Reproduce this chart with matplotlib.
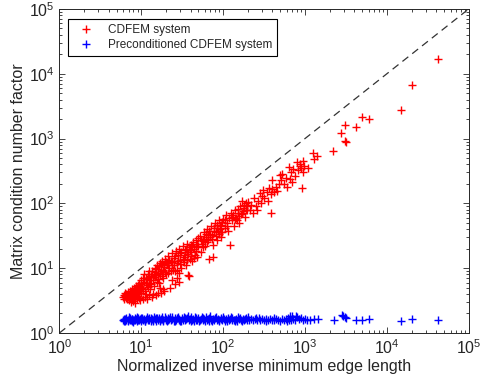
import numpy as np
import matplotlib
matplotlib.use("Agg")
import matplotlib.pyplot as plt

plt.rcParams['font.family'] = ['Liberation Sans', 'DejaVu Sans']

# axis range (decades) and y = x reference
axis_lim = [1.0, 1e5]

# CDFEM system: (normalized inverse min edge length, condition number factor)
red_points = [
    (6.0, 3.6), (6.1, 3.9), (6.2, 3.4), (6.3, 3.7), (6.4, 4.1), (6.5, 3.5), (6.6, 3.8), (6.7, 3.3), (6.8, 4.3), (6.9, 3.6),
    (7.0, 4.0), (7.1, 3.2), (7.2, 4.5), (7.3, 3.7), (7.4, 3.0), (7.5, 4.2), (7.6, 3.5), (7.7, 4.8), (7.8, 3.9), (7.9, 3.1),
    (8.0, 4.4), (8.1, 5.0), (8.2, 3.6), (8.3, 4.1), (8.4, 2.95), (8.5, 4.7), (8.6, 5.3), (8.7, 3.8), (8.8, 4.3), (8.9, 3.3),
    (9.0, 5.6), (9.1, 4.0), (9.2, 4.9), (9.3, 3.5), (9.4, 6.0), (9.5, 4.5), (9.6, 3.2), (9.7, 5.2), (9.8, 4.2), (9.9, 6.5),
    (6.5, 4.0), (7.0, 3.4), (7.5, 3.9), (8.0, 3.4), (8.5, 3.9), (9.0, 3.7), (9.5, 5.4), (7.2, 3.8), (8.8, 5.0), (9.3, 4.6),
    (10.2, 5.0), (10.5, 3.3), (10.8, 6.2), (11.0, 4.4), (11.3, 7.0), (11.6, 5.5), (11.9, 3.4), (12.2, 8.0), (12.5, 6.0), (12.8, 4.8),
    (13.1, 7.5), (13.4, 3.6), (13.7, 9.0), (14.0, 6.5), (14.3, 5.3), (14.6, 10.0), (15.0, 7.8), (15.3, 3.9), (15.6, 11.2), (16.0, 8.5),
    (16.4, 6.0), (16.8, 12.0), (17.2, 9.0), (17.6, 4.2), (18.0, 13.0), (18.4, 7.0), (18.8, 10.5), (19.2, 4.5), (19.6, 14.0), (20.0, 8.0),
    (10.4, 7.0), (11.2, 3.6), (12.0, 5.2), (12.6, 9.2), (13.2, 5.7), (14.8, 8.8), (15.8, 6.8), (16.6, 10.8), (17.8, 7.6), (19.0, 11.5),
    (10.8, 8.2), (11.8, 6.8), (13.9, 4.0), (14.6, 7.2), (17.0, 5.0), (18.6, 4.8),
    (10.0, 5.8), (10.6, 4.8), (11.4, 6.0), (12.3, 7.2), (12.9, 6.6), (13.5, 8.2), (14.2, 7.8), (15.2, 9.6), (15.5, 6.2), (16.2, 9.8),
    (16.9, 8.0), (17.4, 11.0), (18.2, 9.5), (19.4, 8.8), (19.8, 12.5), (11.5, 4.0), (12.4, 3.8), (16.0, 4.1),
    (20.5, 12.0), (21, 15.5), (22, 10.0), (22.5, 5.0), (23, 13.0), (24, 17.0), (24.5, 9.5), (25, 14.5), (26, 5.8), (26.5, 18.5),
    (27, 12.0), (28, 16.0), (28.5, 6.2), (29, 20.0), (30, 13.5), (31, 17.5), (32, 22.0), (33, 15.0), (34, 19.0), (35, 11.0),
    (36, 24.0), (37, 7.8), (37.5, 16.5), (38, 21.0), (39, 14.0), (40, 23.0), (41, 18.0), (42, 13.0), (43, 25.0), (44, 19.5),
    (45, 16.0), (46, 27.0), (47, 21.0), (48, 15.0), (49, 29.0), (50, 22.0), (21.5, 8.5), (23.5, 11.0), (26, 9.0), (31, 10.0),
    (33, 12.5), (35, 20.0), (38, 7.5), (29, 8.5),
    (21, 11.0), (22, 13.5), (23, 9.0), (24, 12.5), (25, 11.0), (26, 15.5), (27, 9.5), (28, 13.0), (30, 17.0), (30, 11.5),
    (32, 14.0), (34, 16.0), (36, 13.5), (36, 18.0), (39, 19.0), (40, 15.5), (42, 22.0), (44, 14.5), (46, 18.5), (48, 24.0),
    (24, 6.5), (27, 7.0),
    (52, 31), (54, 18), (56, 26), (58, 36), (60, 22), (62, 30), (64, 40), (66, 27), (68, 14), (70, 34),
    (72, 45), (74, 28), (76, 15), (78, 38), (80, 50), (82, 31), (85, 42), (88, 34), (90, 55), (92, 40),
    (95, 47), (98, 36), (100, 58), (55, 24), (65, 33), (75, 23), (85, 27), (95, 30),
    (53, 27), (57, 21), (61, 34), (63, 25), (67, 37), (69, 30), (73, 33), (77, 42), (81, 36), (84, 47),
    (87, 38), (91, 45), (94, 36), (97, 52), (59, 28),
    (104, 42), (108, 65), (112, 50), (116, 38), (122, 23), (125, 70), (130, 55), (135, 45), (140, 80), (145, 60),
    (150, 72), (155, 50), (160, 90), (165, 68), (170, 110), (175, 75), (180, 85), (185, 62), (190, 100), (195, 78),
    (200, 105), (110, 45), (128, 62), (148, 55), (172, 70),
    (106, 55), (118, 60), (132, 66), (138, 58), (152, 82), (158, 64), (178, 95), (188, 80), (196, 92),
    (210, 80), (220, 95), (230, 72), (240, 120), (250, 90), (260, 80), (270, 110), (280, 145), (290, 100), (300, 130),
    (310, 160), (320, 120), (340, 150), (350, 110), (360, 170), (380, 72), (380, 140), (390, 230), (400, 165), (420, 150),
    (440, 180), (460, 155), (480, 200), (500, 275),
    (510, 230), (530, 280), (550, 200), (580, 250), (600, 180), (630, 370), (650, 240), (680, 300), (700, 210), (720, 340),
    (750, 260), (800, 430), (830, 330), (860, 400), (870, 380), (900, 350), (930, 172), (950, 455), (950, 300), (980, 380),
    (1100, 350), (1260, 600), (1270, 490), (1400, 530), (2200, 650),
    (2750, 1230), (3100, 1630), (3100, 930), (3150, 900), (4200, 1520), (4900, 2150), (6000, 2000),
    (14800, 2750), (20000, 6800), (42000, 16700),
]

# Preconditioned CDFEM system
blue_points = [
    (6.0, 1.60), (6.1, 1.66), (6.2, 1.55), (6.4, 1.63), (6.5, 1.58), (6.6, 1.68), (6.8, 1.54), (6.9, 1.61), (7.0, 1.65), (7.2, 1.57),
    (7.3, 1.70), (7.4, 1.59), (7.6, 1.63), (7.7, 1.53), (7.8, 1.67), (8.0, 1.60), (8.1, 1.56), (8.3, 1.72), (8.5, 1.58), (8.6, 1.64),
    (8.9, 1.55), (9.0, 1.69), (9.2, 1.61), (9.5, 1.57), (9.6, 1.66), (9.8, 1.52), (10.1, 1.63), (10.3, 1.71), (10.5, 1.58), (10.9, 1.65),
    (11.0, 1.55), (11.3, 1.62), (11.7, 1.74), (12.0, 1.57), (12.1, 1.66), (12.6, 1.60), (13.0, 1.54), (13.1, 1.69), (13.6, 1.62), (14.1, 1.57),
    (14.4, 1.76), (14.7, 1.64), (15.3, 1.55), (15.6, 1.68), (15.9, 1.60), (16.5, 1.73), (17.0, 1.56), (17.2, 1.63), (17.9, 1.67), (18.2, 1.54),
    (18.6, 1.61), (19.4, 1.78), (19.8, 1.58), (20.2, 1.65), (21.0, 1.56), (21.5, 1.70), (22.0, 1.62), (23.0, 1.57), (23.5, 1.75), (24.0, 1.63),
    (25.0, 1.55), (26.0, 1.68), (26.5, 1.60), (27.0, 1.72), (28.5, 1.58), (29.0, 1.65), (30.0, 1.54), (31.5, 1.69), (32.0, 1.61), (33.0, 1.77),
    (34.5, 1.57), (35.0, 1.64), (36.0, 1.70), (38.0, 1.56), (39.0, 1.62), (40.0, 1.74), (42.0, 1.59), (43.0, 1.66), (44.0, 1.55), (46.0, 1.69),
    (47.0, 1.61), (48.0, 1.57), (50.0, 1.72), (52.0, 1.60), (53.0, 1.65), (56.0, 1.56), (57.0, 1.68), (59.0, 1.62), (62.0, 1.76), (63.0, 1.58),
    (65.0, 1.64), (68.0, 1.55), (70.0, 1.80), (72.0, 1.61), (76.0, 1.67), (78.0, 1.57), (80.0, 1.73), (84.0, 1.60), (86.0, 1.65), (88.0, 1.56),
    (93.0, 1.70), (95.0, 1.62), (98.0, 1.58), (103.0, 1.66), (105.0, 1.55), (108.0, 1.63), (114.0, 1.71), (117.0, 1.59), (120.0, 1.64), (127.0, 1.56),
    (130.0, 1.68), (134.0, 1.61), (141.0, 1.58), (145.0, 1.66), (149.0, 1.55), (157.0, 1.63), (160.0, 1.70), (166.0, 1.59), (175.0, 1.64), (180.0, 1.57),
    (185.0, 1.67), (195.0, 1.61), (200.0, 1.78), (206.0, 1.58), (218.0, 1.65), (230.0, 1.56), (243.0, 1.63), (257.0, 1.60), (271.0, 1.68), (286.0, 1.57),
    (302.0, 1.62), (319.0, 1.59), (337.0, 1.66), (356.0, 1.56), (376.0, 1.63), (397.0, 1.60), (419.0, 1.57), (442.0, 1.64), (467.0, 1.59), (493.0, 1.55),
    (520.0, 1.62), (549.0, 1.58), (580.0, 1.66), (612.0, 1.73), (646.0, 1.60), (682.0, 1.56), (700.0, 1.80), (720.0, 1.65), (760.0, 1.58), (802.0, 1.77),
    (847.0, 1.62), (894.0, 1.68), (944.0, 1.57), (996.0, 1.64), (1050.0, 1.60), (1150.0, 1.58), (1300.0, 1.63), (1450.0, 1.65),
    (6.3, 1.52), (7.1, 1.74), (7.9, 1.50), (8.8, 1.75), (9.9, 1.68), (11.1, 1.51), (12.4, 1.72), (13.8, 1.52), (15.0, 1.72), (16.8, 1.51),
    (18.0, 1.75), (20.6, 1.52), (22.5, 1.78), (25.5, 1.51), (28.0, 1.76), (31.0, 1.52), (34.0, 1.73), (37.0, 1.80), (41.0, 1.52), (45.0, 1.78),
    (51.0, 1.53), (55.0, 1.79), (60.0, 1.52), (67.0, 1.72), (74.0, 1.53), (82.0, 1.78), (90.0, 1.52), (100.0, 1.74), (112.0, 1.52), (125.0, 1.75),
    (138.0, 1.52), (152.0, 1.74), (170.0, 1.53), (190.0, 1.72), (250.0, 1.72), (330.0, 1.52), (420.0, 1.70), (600.0, 1.52), (650.0, 1.84), (780.0, 1.85),
    (2250, 1.58), (2800, 1.88), (2900, 1.82), (3050, 1.75), (3150, 1.68), (4250, 1.60), (4900, 1.60), (6100, 1.64),
    (14800, 1.55), (20000, 1.65), (42000, 1.60),
]

labels = ['CDFEM system', 'Preconditioned CDFEM system']

red = np.array(red_points).T
blue = np.array(blue_points).T
txt = '#262626'

fig = plt.figure(figsize=(4.81, 3.79), dpi=100)
ax = fig.add_axes([0.1235, 0.1214, 0.851, 0.855])

ax.plot(axis_lim, axis_lim, linestyle=(0, (6, 4)), color='#333333', linewidth=0.9)
ax.plot(red[0], red[1], '+', color='red', markersize=6, markeredgewidth=1.0,
        linestyle='none', label=labels[0])
ax.plot(blue[0], blue[1], '+', color='blue', markersize=6, markeredgewidth=1.0,
        linestyle='none', label=labels[1])

ax.set_xscale('log')
ax.set_yscale('log')
ax.set_xlim(axis_lim)
ax.set_ylim(axis_lim)

ax.set_xlabel('Normalized inverse minimum edge length', fontsize=11.5, color=txt, labelpad=2)
ax.set_ylabel('Matrix condition number factor', fontsize=11.5, color=txt, labelpad=2)

ax.tick_params(which='both', direction='in', top=True, right=True, colors=txt,
               labelsize=11.5, width=0.6)
ax.tick_params(which='major', length=4)
ax.tick_params(which='minor', length=2)
for s in ax.spines.values():
    s.set_color(txt)
    s.set_linewidth(0.7)

leg = ax.legend(loc='upper left', bbox_to_anchor=(0.021, 0.969), borderaxespad=0,
                fontsize=8.5, fancybox=False, edgecolor='black', framealpha=1,
                handlelength=2.2, handletextpad=0.8, borderpad=0.4, labelspacing=0.3)
leg.get_frame().set_linewidth(0.8)
for t in leg.get_texts():
    t.set_color(txt)

fig.savefig('out.png', dpi=100)
